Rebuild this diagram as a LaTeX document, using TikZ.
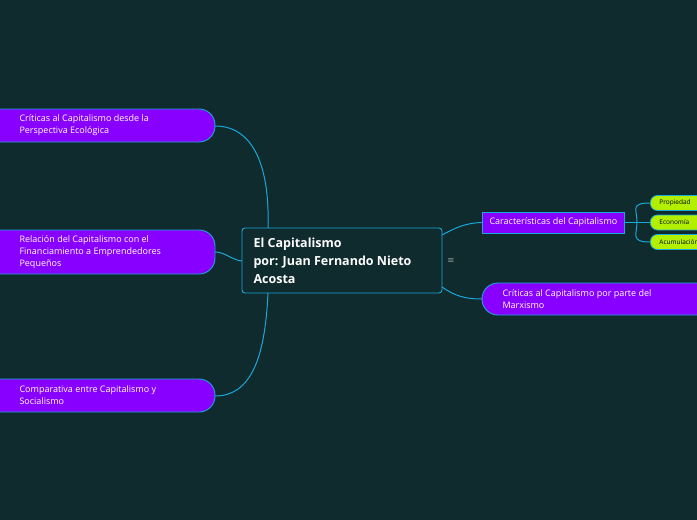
\documentclass[tikz,border=0pt]{standalone}
\usepackage{fontspec}
\setmainfont{Open Sans}
\definecolor{bgc}{HTML}{0F2B2D}
\definecolor{linec}{HTML}{1AA7DA}
\definecolor{purp}{HTML}{8800FF}
\definecolor{lime}{HTML}{B3F000}
\tikzset{
  leaf/.style={draw=linec, fill=lime, text=black, line width=0.8pt, rounded corners=7pt, font=\fontsize{6.5}{7}\selectfont, anchor=west, minimum height=15pt, minimum width=70pt, text width=52pt, inner xsep=9pt, align=left},
  ttext/.style={anchor=west, align=left, text=white, font=\fontsize{9}{12}\selectfont},
  link/.style={linec, line width=1pt}
}
\begin{document}
\begin{tikzpicture}[x=1pt,y=-1pt]
\fill[bgc] (0,0) rectangle (697,520);
\clip (0,0) rectangle (697,520);
% center
\draw[linec, line width=0.9pt, fill=bgc, rounded corners=3pt] (242,228) rectangle (442,293);
\node[anchor=west, align=left, text=white, font=\bfseries\fontsize{12.5}{18}\selectfont] (main) at (250,261) {El Capitalismo\\por: Juan Fernando Nieto\\Acosta};
\coordinate (mtop) at (268,228);
\coordinate (mleft) at (242,261);
\coordinate (mbot) at (268,293);
\coordinate (mre) at (442,235);
\coordinate (mrb) at (442,287);
\node[text=white, font=\fontsize{8}{8}\selectfont] (menu) at (451,261) {$\equiv$};
% left topics
\draw[linec, line width=0.9pt, fill=purp, rounded corners=16pt] (-20,109) rectangle (215,142);
\node[ttext] (eco) at (16,125.5) {Críticas al Capitalismo desde la\\Perspectiva Ecológica};
\draw[linec, line width=0.9pt, fill=purp, rounded corners=16pt] (-20,230) rectangle (215,274);
\node[ttext] (fin) at (16,252) {Relación del Capitalismo con el\\Financiamiento a Emprendedores\\Pequeños};
\draw[linec, line width=0.9pt, fill=purp, rounded corners=16pt] (-20,379) rectangle (215,412);
\node[ttext] (soc) at (16,395.5) {Comparativa entre Capitalismo y\\Socialismo};
\coordinate (eco e) at (215,126);
\coordinate (fin e) at (215,252);
\coordinate (soc e) at (215,396);
% right topics
\node[draw=linec, fill=purp, text=white, line width=0.9pt, font=\fontsize{9}{9}\selectfont, minimum width=142pt, minimum height=21pt, anchor=west] (car) at (482,222.5) {Características del Capitalismo};
\draw[linec, line width=0.9pt, fill=purp, rounded corners=16pt] (482,283) rectangle (720,315);
\node[ttext] (marx) at (499,299) {Críticas al Capitalismo por parte del\\Marxismo};
\coordinate (marx w) at (482,299);
% leaves
\node[leaf] (l1) at (650,203) {Propiedad};
\node[leaf] (l2) at (650,222.5) {Economía};
\node[leaf] (l3) at (650,242) {Acumulación};
% links
\draw[link] (mtop) .. controls (270,160) and (250,126) .. (eco e);
\draw[link] (mleft) .. controls (232,260) and (225,252) .. (fin e);
\draw[link] (mbot) .. controls (265,360) and (250,396) .. (soc e);
\draw[link] (mre) .. controls (455,228) and (465,223) .. (car.west);
\draw[link] (mrb) .. controls (455,296) and (465,299) .. (marx w);
\draw[link] (car.east) -- (l2.west);
\draw[link] (l1.west) .. controls (630,203) and (637,210) .. (637,222) .. controls (637,234) and (630,242) .. (l3.west);
\end{tikzpicture}
\end{document}
